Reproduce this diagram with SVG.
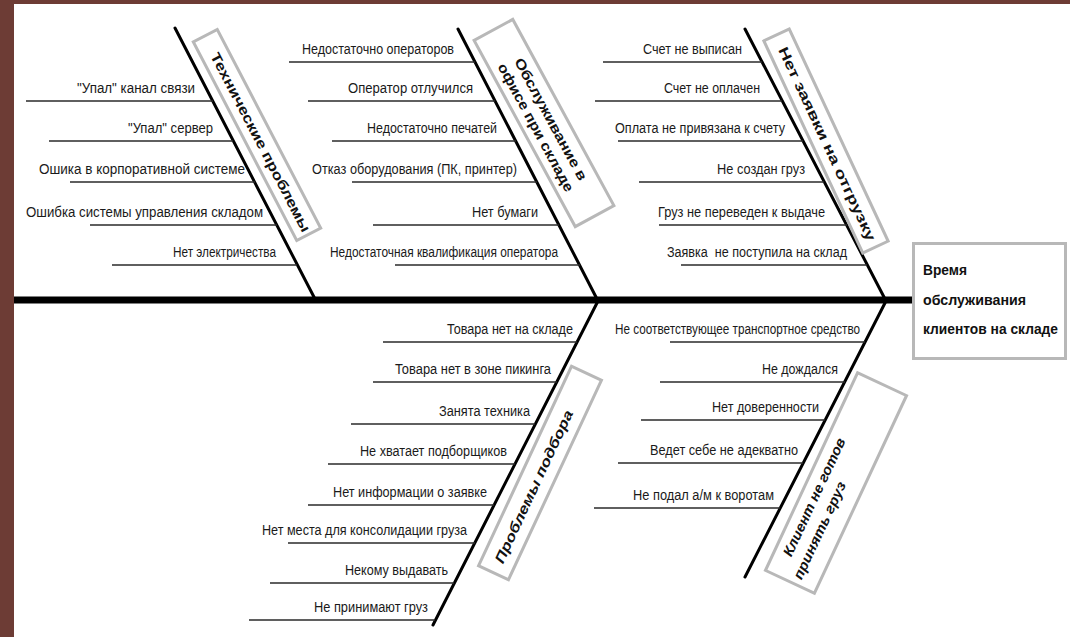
<svg xmlns="http://www.w3.org/2000/svg" width="1070" height="637" viewBox="0 0 1070 637">
<style>
.c{font-family:"Liberation Sans",Arial,sans-serif;font-size:14px;fill:#1a1a1a}
.h{font-family:"Liberation Sans",Arial,sans-serif;font-size:14px;font-weight:bold;fill:#111}
.hi{font-style:italic}
.m{font-family:"Liberation Sans",Arial,sans-serif;font-size:15px;font-weight:bold;fill:#111}
.bx{fill:#fff;stroke:#b8b8b8;stroke-width:3}
.bone{stroke:#000;stroke-width:3;fill:none;stroke-linecap:round}
.spine{stroke:#000;stroke-width:7}
.br{stroke:#2a2a2a;stroke-width:1.4}
</style>
<rect width="1070" height="637" fill="#fff"/>
<rect x="0" y="0" width="1070" height="4" fill="#6d3c35"/>
<rect x="0" y="0" width="14" height="637" fill="#6d3c35"/>

<g id="connectors">
<line class="spine" x1="14" y1="300" x2="913" y2="300"/>
<line class="bone" x1="175" y1="28" x2="315" y2="299"/>
<line class="bone" x1="458" y1="29" x2="597" y2="299"/>
<line class="bone" x1="745" y1="29" x2="885" y2="299"/>
<line class="bone" x1="598" y1="301" x2="433" y2="625"/>
<line class="bone" x1="886" y1="301" x2="745" y2="577"/>
<g class="br">
<line x1="26" y1="101" x2="213" y2="101"/>
<line x1="49" y1="141" x2="233" y2="141"/>
<line x1="70" y1="182" x2="255" y2="182"/>
<line x1="90" y1="225" x2="277" y2="225"/>
<line x1="112" y1="265" x2="297" y2="265"/>
<line x1="289" y1="62" x2="475" y2="62"/>
<line x1="308" y1="101" x2="495" y2="101"/>
<line x1="332" y1="141" x2="516" y2="141"/>
<line x1="352" y1="182" x2="537" y2="182"/>
<line x1="373" y1="225" x2="559" y2="225"/>
<line x1="395" y1="265" x2="580" y2="265"/>
<line x1="603" y1="62" x2="762" y2="62"/>
<line x1="595" y1="101" x2="782" y2="101"/>
<line x1="618" y1="141" x2="803" y2="141"/>
<line x1="639" y1="182" x2="824" y2="182"/>
<line x1="659" y1="225" x2="847" y2="225"/>
<line x1="681" y1="265" x2="867" y2="265"/>
<line x1="383" y1="342" x2="577" y2="342"/>
<line x1="373" y1="382" x2="557" y2="382"/>
<line x1="351" y1="424" x2="535" y2="424"/>
<line x1="328" y1="464" x2="515" y2="464"/>
<line x1="308" y1="505" x2="494" y2="505"/>
<line x1="288" y1="543" x2="475" y2="543"/>
<line x1="270" y1="583" x2="454" y2="583"/>
<line x1="249" y1="620" x2="435" y2="620"/>
<line x1="670" y1="342" x2="865" y2="342"/>
<line x1="660" y1="382" x2="845" y2="382"/>
<line x1="641" y1="420" x2="825" y2="420"/>
<line x1="618" y1="463" x2="803" y2="463"/>
<line x1="594" y1="508" x2="780" y2="508"/>
</g>
</g>

<g id="effect">
<rect class="bx" x="913.5" y="243.5" width="152" height="115"/>
<text class="m" x="923" y="275" textLength="44" lengthAdjust="spacingAndGlyphs">Время</text>
<text class="m" x="923" y="305" textLength="103" lengthAdjust="spacingAndGlyphs">обслуживания</text>
<text class="m" x="923" y="334" textLength="135" lengthAdjust="spacingAndGlyphs">клиентов на складе</text>
</g>

<g id="cat-tech" transform="translate(257,135) rotate(62.5)">
<rect class="bx" x="-112" y="-13.5" width="224" height="27"/>
<text class="h" x="8" y="5" text-anchor="middle" textLength="200" lengthAdjust="spacingAndGlyphs">Технические проблемы</text>
</g>
<g id="cat-office" transform="translate(544,123) rotate(61.5)">
<rect class="bx" x="-106" y="-22" width="212" height="44"/>
<text class="h" x="0" y="-3" text-anchor="middle" textLength="137" lengthAdjust="spacingAndGlyphs">Обслуживание в</text>
<text class="h" x="0" y="14" text-anchor="middle" textLength="144" lengthAdjust="spacingAndGlyphs">офисе при складе</text>
</g>
<g id="cat-order" transform="translate(826,141) rotate(65)">
<rect class="bx" x="-117" y="-14" width="234" height="28"/>
<text class="h" x="3" y="5" text-anchor="middle" textLength="212" lengthAdjust="spacingAndGlyphs">Нет заявки на отгрузку</text>
</g>
<g id="cat-pick" transform="translate(540,473) rotate(-65)">
<rect class="bx" x="-110" y="-16.5" width="220" height="33"/>
<text class="h hi" x="-15" y="5" text-anchor="middle" textLength="167" lengthAdjust="spacingAndGlyphs">Проблемы подбора</text>
</g>
<g id="cat-client" transform="translate(836,483) rotate(-65)">
<rect class="bx" x="-109" y="-27" width="218" height="54"/>
<text class="h hi" x="-22" y="-9" text-anchor="middle" textLength="129" lengthAdjust="spacingAndGlyphs">Клиент не готов</text>
<text class="h hi" x="-50" y="10" text-anchor="middle" textLength="106" lengthAdjust="spacingAndGlyphs">принять груз</text>
</g>

<g id="causes-tech">
<text class="c" x="77" y="93" textLength="118" lengthAdjust="spacingAndGlyphs">"Упал" канал связи</text>
<text class="c" x="128" y="133" textLength="85" lengthAdjust="spacingAndGlyphs">"Упал" сервер</text>
<text class="c" x="39" y="174" textLength="206" lengthAdjust="spacingAndGlyphs">Ошика в корпоративной системе</text>
<text class="c" x="26" y="217" textLength="237" lengthAdjust="spacingAndGlyphs">Ошибка системы управления складом</text>
<text class="c" x="173" y="257" textLength="103" lengthAdjust="spacingAndGlyphs">Нет электричества</text>
</g>
<g id="causes-office">
<text class="c" x="302" y="54" textLength="152" lengthAdjust="spacingAndGlyphs">Недостаточно операторов</text>
<text class="c" x="348" y="93" textLength="125" lengthAdjust="spacingAndGlyphs">Оператор отлучился</text>
<text class="c" x="367" y="133" textLength="130" lengthAdjust="spacingAndGlyphs">Недостаточно печатей</text>
<text class="c" x="312" y="174" textLength="205" lengthAdjust="spacingAndGlyphs">Отказ оборудования (ПК, принтер)</text>
<text class="c" x="472" y="217" textLength="66" lengthAdjust="spacingAndGlyphs">Нет бумаги</text>
<text class="c" x="330" y="257" textLength="228" lengthAdjust="spacingAndGlyphs">Недостаточная квалификация оператора</text>
</g>
<g id="causes-order">
<text class="c" x="643" y="54" textLength="99" lengthAdjust="spacingAndGlyphs">Счет не выписан</text>
<text class="c" x="664" y="93" textLength="96" lengthAdjust="spacingAndGlyphs">Счет не оплачен</text>
<text class="c" x="615" y="133" textLength="170" lengthAdjust="spacingAndGlyphs">Оплата не привязана к счету</text>
<text class="c" x="717" y="174" textLength="88" lengthAdjust="spacingAndGlyphs">Не создан груз</text>
<text class="c" x="658" y="217" textLength="167" lengthAdjust="spacingAndGlyphs">Груз не переведен к выдаче</text>
<text class="c" x="667" y="257" textLength="180" lengthAdjust="spacingAndGlyphs" style="white-space:pre">Заявка  не поступила на склад</text>
</g>
<g id="causes-pick">
<text class="c" x="447" y="334" textLength="126" lengthAdjust="spacingAndGlyphs">Товара нет на складе</text>
<text class="c" x="395" y="374" textLength="156" lengthAdjust="spacingAndGlyphs">Товара нет в зоне пикинга</text>
<text class="c" x="439" y="416" textLength="91" lengthAdjust="spacingAndGlyphs">Занята техника</text>
<text class="c" x="360" y="456" textLength="147" lengthAdjust="spacingAndGlyphs">Не хватает подборщиков</text>
<text class="c" x="333" y="497" textLength="154" lengthAdjust="spacingAndGlyphs">Нет информации о заявке</text>
<text class="c" x="262" y="535" textLength="205" lengthAdjust="spacingAndGlyphs">Нет места для консолидации груза</text>
<text class="c" x="345" y="575" textLength="103" lengthAdjust="spacingAndGlyphs">Некому выдавать</text>
<text class="c" x="314" y="612" textLength="114" lengthAdjust="spacingAndGlyphs">Не принимают груз</text>
</g>
<g id="causes-client">
<text class="c" x="615" y="334" textLength="245" lengthAdjust="spacingAndGlyphs">Не соответствующее транспортное средство</text>
<text class="c" x="762" y="374" textLength="76" lengthAdjust="spacingAndGlyphs">Не дождался</text>
<text class="c" x="712" y="412" textLength="107" lengthAdjust="spacingAndGlyphs">Нет доверенности</text>
<text class="c" x="650" y="455" textLength="148" lengthAdjust="spacingAndGlyphs">Ведет себе не адекватно</text>
<text class="c" x="633" y="500" textLength="141" lengthAdjust="spacingAndGlyphs">Не подал а/м к воротам</text>
</g>
</svg>
